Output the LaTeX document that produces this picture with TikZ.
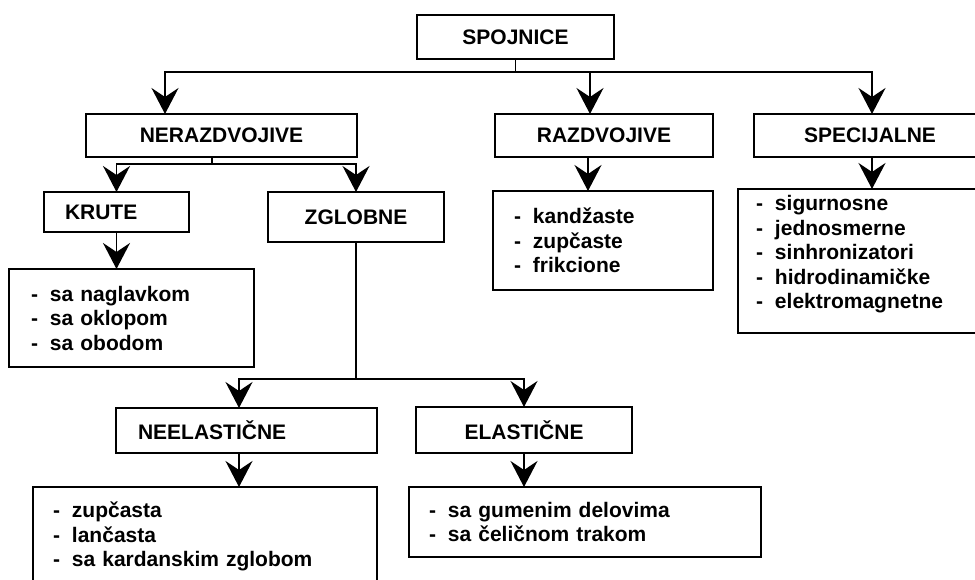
\documentclass[tikz,border=0pt]{standalone}
\usepackage{fontspec}
\setmainfont{Liberation Sans}
\usetikzlibrary{arrows.meta}
\tikzset{
  box/.style={draw, line width=1.6pt, anchor=north west, inner sep=0pt, outer sep=0pt,
    font=\fontsize{21}{24.5}\selectfont\bfseries},
  lbox/.style={box, align=left, inner xsep=#1},
  veza/.style={line width=1.6pt},
  arr/.style={veza, -{Stealth[length=26pt,width=27pt,inset=9pt]}}
}
\newcommand{\stavka}[1]{\makebox[19pt][l]{-}#1}
\begin{document}
\begin{tikzpicture}[x=1pt,y=-1pt]
        \useasboundingbox (0,0) rectangle (975,579);
        \clip (0,0) rectangle (975,579);

        \node[box, minimum width=197pt, minimum height=44pt] (spojnice) at (417,15) {SPOJNICE};
        \node[box, minimum width=271pt, minimum height=43pt] (nerazdvojive) at (86,114) {NERAZDVOJIVE};
        \node[box, minimum width=218pt, minimum height=43pt] (razdvojive) at (495,114) {RAZDVOJIVE};
        \node[box, minimum width=232pt, minimum height=43pt] (specijalne) at (754,114) {SPECIJALNE};
        \node[lbox=21pt, text width=103pt, minimum height=40pt] (krute) at (44,192) {KRUTE};
        \node[box, minimum width=176pt, minimum height=50pt] (zglobne) at (268,192) {ZGLOBNE};
        \node[lbox=22pt, text width=217pt, minimum height=45pt] (neelasticne) at (116,408) {NEELASTIČNE};
        \node[box, minimum width=216pt, minimum height=46pt] (elasticne) at (416,407) {ELASTIČNE};

        % liste
        \node[lbox=22pt, text width=201pt, minimum height=98pt] (kruteL) at (9,269)
          {\stavka{sa naglavkom}\\ \stavka{sa oklopom}\\ \stavka{sa obodom}};
        \node[lbox=21pt, text width=178pt, minimum height=99pt] (razdvojiveL) at (493,191)
          {\stavka{kandžaste}\\ \stavka{zupčaste}\\ \stavka{frikcione}};
        \node[lbox=18pt, text width=214pt, minimum height=144pt] (specijalneL) at (738,189)
          {\stavka{sigurnosne}\\ \stavka{jednosmerne}\\ \stavka{sinhronizatori}\\
           \stavka{hidrodinamičke}\\ \stavka{elektromagnetne}\rule[-18pt]{0pt}{0pt}};
        \node[lbox=20pt, text width=304pt, minimum height=123pt] (neelasticneL) at (33,487)
          {\stavka{zupčasta}\\ \stavka{lančasta}\\ \stavka{sa kardanskim zglobom}\rule[-28pt]{0pt}{0pt}};
        \node[lbox=20pt, text width=312pt, minimum height=70pt] (elasticneL) at (409,487)
          {\stavka{sa gumenim delovima}\\ \stavka{sa čeličnom trakom}};

        \draw[veza] (spojnice.south) -- ++(0,13) coordinate (s1);
        \draw[arr] (s1) -| ([xshift=79pt]nerazdvojive.north west);
        \draw[arr] (s1) -| ([xshift=95pt]razdvojive.north west);
        \draw[arr] (s1) -| ([xshift=118pt]specijalne.north west);

        \draw[veza] ([xshift=126pt]nerazdvojive.south west) -- ++(0,7) coordinate (s2);
        \draw[arr] (s2) -| (krute.north);
        \draw[arr] (s2) -| (zglobne.north);
        \draw[arr] (krute.south) -- (krute.south |- kruteL.north);

        \draw[veza] (zglobne.south) -- ++(0,137) coordinate (s3);
        \draw[arr] (s3) -| ([xshift=123pt]neelasticne.north west);
        \draw[arr] (s3) -| (elasticne.north);

        \coordinate (n1) at ([xshift=123pt]neelasticne.south west);
        \draw[arr] (n1) -- (n1 |- neelasticneL.north);
        \draw[arr] (elasticne.south) -- (elasticne.south |- elasticneL.north);

        \coordinate (r1) at ([xshift=93pt]razdvojive.south west);
        \draw[arr] (r1) -- (r1 |- razdvojiveL.north);
        \coordinate (p1) at ([xshift=118pt]specijalne.south west);
        \draw[arr] (p1) -- (p1 |- specijalneL.north);
      \end{tikzpicture}
\end{document}
